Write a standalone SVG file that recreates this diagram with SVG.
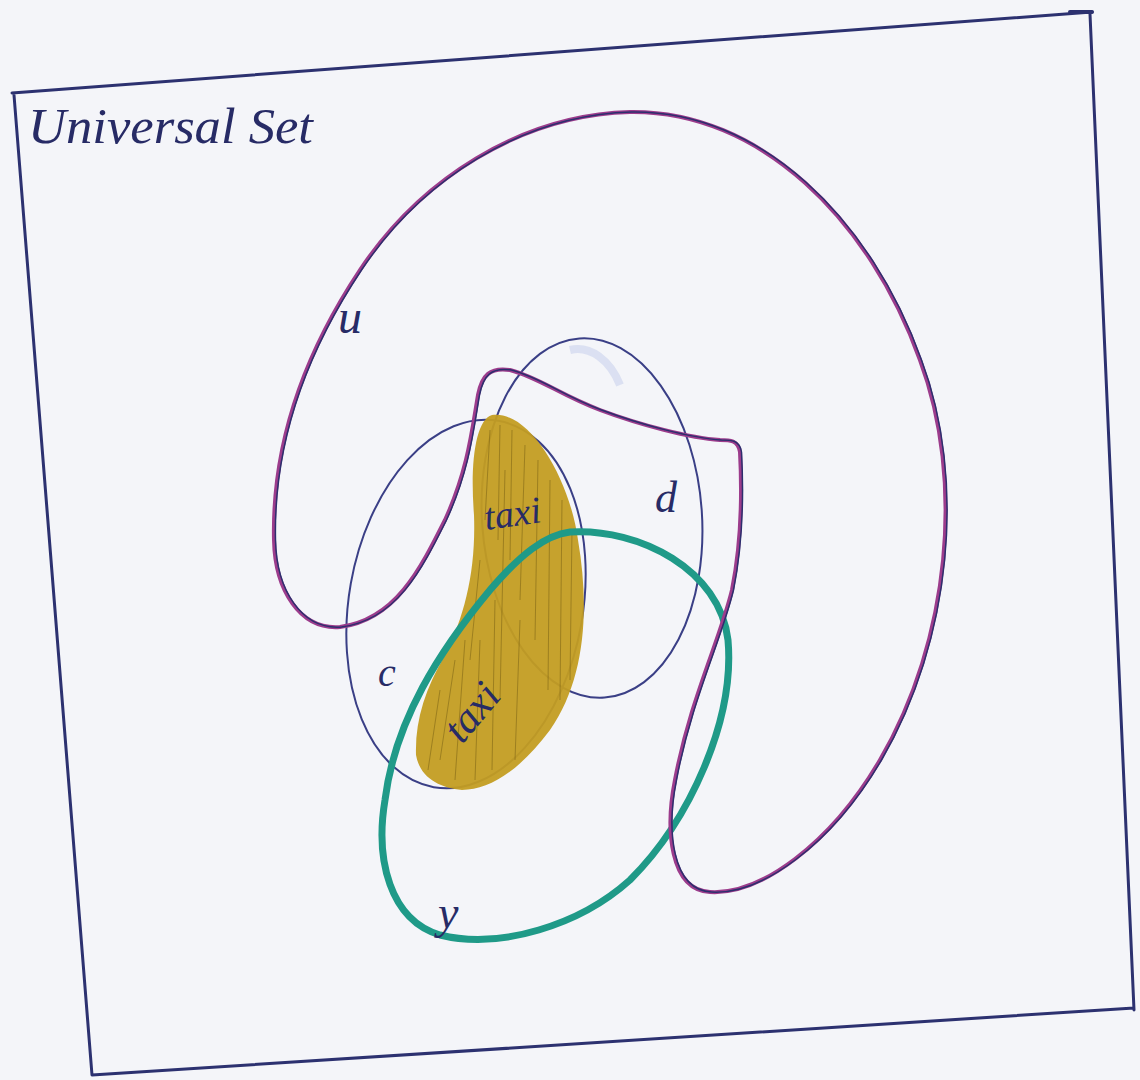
<svg xmlns="http://www.w3.org/2000/svg" width="1140" height="1080" viewBox="0 0 1140 1080">
<style>
.ink{fill:none;stroke:#2c3170;stroke-linecap:round;stroke-linejoin:round}
.lbl{font-family:"Liberation Serif",serif;font-style:italic;fill:#272b66}
</style>
<rect width="1140" height="1080" fill="#f4f5f9"/>
<g id="frame">
<path class="ink" stroke-width="3" d="M12 93 L1092 12 M1090 14 L1134 1010 M1134 1008 L92 1075 M92 1075 L14 95"/>
<path class="ink" stroke-width="4" d="M1070 12 L1092 12"/>
</g>
<text class="lbl" x="28" y="143" font-size="50" textLength="285" lengthAdjust="spacingAndGlyphs">Universal Set</text>
<g id="set-c">
<ellipse cx="466" cy="604" rx="117" ry="186" transform="rotate(10 466 604)" fill="none" stroke="#3a3f86" stroke-width="2"/>
</g>
<g id="set-d">
<ellipse cx="592" cy="518" rx="110" ry="180" transform="rotate(-4 592 518)" fill="none" stroke="#3a3f86" stroke-width="2"/>
<path d="M570 350 C590 345 610 360 620 385" fill="none" stroke="#c9d2ec" stroke-width="8" opacity="0.6"/>
</g>
<g id="shaded">
<path d="M492 415 C530 410 570 480 578 540 C590 610 585 680 550 730 C520 770 490 790 462 790 C440 788 420 778 416 755 C415 720 425 690 445 655 C465 615 476 570 474 515 C470 465 475 420 492 415 Z" fill="#c39d22" opacity="0.95"/>
<g stroke="#6b5410" stroke-width="1" opacity="0.45" fill="none">
<path d="M490 430 L485 520 M500 425 L498 540 M512 430 L510 560 M525 445 L520 600 M538 460 L535 640 M550 480 L548 690 M562 500 L560 700 M572 530 L570 680 M480 560 L470 660 M455 660 L440 760 M440 690 L428 770 M480 640 L475 780 M495 600 L492 770 M520 620 L515 760 M505 470 L500 700 M465 640 L455 780"/>
</g>
</g>
<g id="set-y">
<path d="M570 532 C640 528 720 570 728 640 C735 720 690 820 630 880 C580 925 500 950 440 935 C390 920 375 860 385 800 C395 720 440 650 490 590 C520 555 545 535 570 532 Z" fill="none" stroke="#1f9a88" stroke-width="7"/>
</g>
<g id="set-u">
<path d="M340 627 C300 630 275 590 274 540 C272 450 300 360 360 270 C420 180 520 115 630 112 C760 110 870 220 920 360 C965 480 950 640 880 760 C830 845 760 895 710 892 C670 890 665 830 675 780 C690 700 720 640 732 590 C742 540 742 490 740 452 C738 440 730 440 720 440 C690 438 640 425 600 410 C560 395 540 378 510 370 C490 367 482 375 478 395 C472 430 468 470 445 520 C420 570 395 620 340 627 Z" fill="none" stroke="#9c3c8c" stroke-width="4"/>
<path d="M340 627 C300 630 275 590 274 540 C272 450 300 360 360 270 C420 180 520 115 630 112 C760 110 870 220 920 360 C965 480 950 640 880 760 C830 845 760 895 710 892 C670 890 665 830 675 780 C690 700 720 640 732 590 C742 540 742 490 740 452 C738 440 730 440 720 440 C690 438 640 425 600 410 C560 395 540 378 510 370 C490 367 482 375 478 395 C472 430 468 470 445 520 C420 570 395 620 340 627 Z" fill="none" stroke="#2c2f6e" stroke-width="1.5" transform="translate(1.5 0)"/>
</g>
<text class="lbl" x="338" y="333" font-size="48">u</text>
<text class="lbl" x="655" y="512" font-size="44">d</text>
<text class="lbl" x="378" y="686" font-size="40">c</text>
<text class="lbl" x="438" y="928" font-size="46">y</text>
<text class="lbl" x="486" y="530" font-size="38" transform="rotate(-8 486 530)">taxi</text>
<text class="lbl" x="462" y="745" font-size="42" transform="rotate(-50 462 745)">taxi</text>
</svg>
